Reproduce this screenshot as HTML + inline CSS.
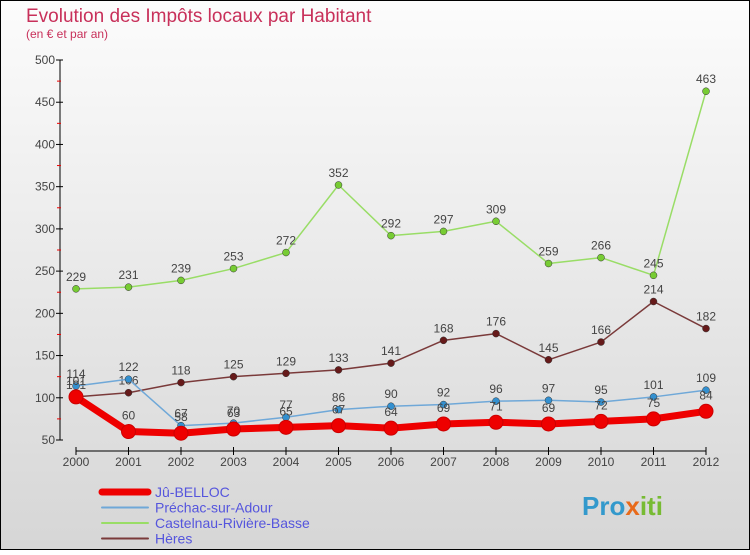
<!DOCTYPE html>
<html><head><meta charset="utf-8"><style>
body{margin:0}
#c{width:750px;height:550px;position:relative;font-family:"Liberation Sans",sans-serif}
</style></head><body>
<div id="c">
<svg id="s" width="750" height="550" xmlns="http://www.w3.org/2000/svg">
<defs><linearGradient id="bg" x1="0" y1="0" x2="0" y2="1"><stop offset="0" stop-color="#fcfcfc"/><stop offset="1" stop-color="#d6d6d6"/></linearGradient></defs>
<rect x="0.5" y="0.5" width="749" height="549" fill="url(#bg)" stroke="#000"/>
<text x="26" y="22" font-size="19" fill="#c8305a">Evolution des Impôts locaux par Habitant</text>
<text x="26" y="38" font-size="12" fill="#c8305a">(en € et par an)</text>
<g id="axes"></g><g id="series"></g><g id="legend"></g>
<text x="582" y="515" font-size="26" font-weight="bold" fill="#3399cc">Pro<tspan fill="#e86a1a">x</tspan><tspan fill="#77bb33">iti</tspan></text>
</svg></div>
<script>
const years=[2000,2001,2002,2003,2004,2005,2006,2007,2008,2009,2010,2011,2012];
const yTicks=[50,100,150,200,250,300,350,400,450,500];
const seriesNames=["Jû-BELLOC","Préchac-sur-Adour","Castelnau-Rivière-Basse","Hères"];
const juBelloc=[101,60,58,63,65,67,64,69,71,69,72,75,84];
const prechac=[114,122,67,70,77,86,90,92,96,97,95,101,109];
const castelnau=[229,231,239,253,272,352,292,297,309,259,266,245,463];
const heres=[101,106,118,125,129,133,141,168,176,145,166,214,182];
const NS="http://www.w3.org/2000/svg";
function X(i){return 76+i*(630/(years.length-1));}
function Y(v){return 440-(v-50)*380/450;}
function mk(t,a,p){const e=document.createElementNS(NS,t);for(const k in a)e.setAttribute(k,a[k]);p.appendChild(e);return e;}
const ax=document.getElementById('axes');
let e=mk('line',{x1:60,y1:60,x2:60,y2:440,stroke:'#000'},ax);

e=mk('line',{x1:76,y1:451,x2:706,y2:451,stroke:'#000'},ax);

yTicks.forEach((t,i)=>{
 mk('line',{x1:56,y1:Y(t),x2:63,y2:Y(t),stroke:'#000'},ax);
 if(i<yTicks.length-1)mk('line',{x1:57,y1:Y(t+25),x2:61,y2:Y(t+25),stroke:'#e00'},ax);
 const l=mk('text',{x:55,y:Y(t)+4,'font-size':12,fill:'#444','text-anchor':'end'},ax);l.textContent=t;
 
});
years.forEach((y,i)=>{
 mk('line',{x1:X(i),y1:447,x2:X(i),y2:455,stroke:'#000'},ax);
 const l=mk('text',{x:X(i),y:466,'font-size':12,fill:'#444','text-anchor':'middle'},ax);l.textContent=y;
 
});
const sg=document.getElementById('series');
const cfg=[[castelnau,'#99dd66','#77cc33',1.5,3.5,'castelnau'],[heres,'#7a3a3a','#661a1a',1.5,3.5,'heres'],[prechac,'#6fa8d8','#3390d0',1.5,3.5,'prechac'],[juBelloc,'#ee0000','#ee0000',7,7,'ju-belloc']];
cfg.forEach(([d,lc,dc,w,r,n])=>{
 const g=mk('g',{},sg);
 const p=mk('polyline',{points:d.map((v,i)=>X(i)+','+Y(v)).join(' '),fill:'none',stroke:lc,'stroke-width':w,'stroke-linejoin':'round'},g);
 
 d.forEach((v,i)=>{
  const c=mk('circle',{cx:X(i),cy:Y(v),r:r,fill:dc,stroke:n==='ju-belloc'?'#cc0000':'#333','stroke-width':n==='ju-belloc'?1:0.5},g);
  
  const t=mk('text',{x:X(i),y:Y(v)-(n==='ju-belloc'?12:8),'font-size':12,fill:'#444','text-anchor':'middle'},g);t.textContent=v;
  
 });
});
const lg=document.getElementById('legend');
const lcols=['#ee0000','#6fa8d8','#99dd66','#7a3a3a'],lw=[7,2,2,2];
seriesNames.forEach((s,i)=>{
 const y=492+i*15.5;
 const g=mk('g',{},lg);
 mk('line',{x1:102,y1:y,x2:148,y2:y,stroke:lcols[i],'stroke-width':lw[i],'stroke-linecap':'round'},g);
 const t=mk('text',{x:155,y:y+5,'font-size':14,fill:'#5555dd'},g);t.textContent=s;
});
</script></body></html>
